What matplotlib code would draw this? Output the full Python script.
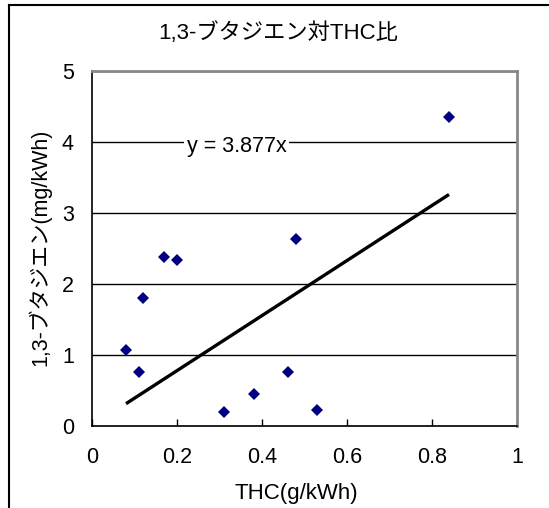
import numpy as np
import matplotlib
matplotlib.use("Agg")
import matplotlib.pyplot as plt
from matplotlib.lines import Line2D

# -----------------------------
# データ
# -----------------------------
thc = [0.08, 0.11, 0.12, 0.17, 0.20, 0.31, 0.38, 0.46, 0.48, 0.53, 0.84]
butadiene = [1.06, 0.75, 1.80, 2.38, 2.33, 0.20, 0.45, 0.75, 2.63, 0.22, 4.35]
slope = 3.877
x_ticks = [0, 0.2, 0.4, 0.6, 0.8, 1]
x_tick_labels = ["0", "0.2", "0.4", "0.6", "0.8", "1"]
y_ticks = [0, 1, 2, 3, 4, 5]

title = "1,3-ブタジエン対THC比"
xlabel = "THC(g/kWh)"
ylabel = "1,3-ブタジエン(mg/kWh)"
eq_label = f"y = {slope}x"

plt.rcParams['font.family'] = ['Liberation Sans', 'Noto Sans CJK JP', 'DejaVu Sans']

W, H = 549, 508
fig = plt.figure(figsize=(W / 100, H / 100), dpi=100)
ax = fig.add_axes([92 / W, 1 - 425.7 / H, 425 / W, 355 / H])

# 近似直線 (原点を通る)
x_fit = np.array([min(thc), max(thc)])
ax.plot(x_fit, slope * x_fit, color='black', lw=2.4, solid_capstyle='butt', zorder=3)

# 散布図
ax.plot(thc, butadiene, linestyle='none', marker='D', ms=6.5,
        color='#000080', markeredgewidth=0, zorder=4)

ax.set_xlim(0, 1)
ax.set_ylim(0, 5)
ax.set_xticks(x_ticks)
ax.set_xticklabels(x_tick_labels)
ax.set_yticks(y_ticks)

ax.yaxis.grid(True, color='black', lw=1.0)
ax.set_axisbelow(True)

ax.tick_params(axis='x', direction='in', length=5, width=1, pad=15, labelsize=15.5)
ax.tick_params(axis='y', length=0, pad=13, labelsize=15.5)

for s in ['left', 'bottom']:
    ax.spines[s].set_color('black')
    ax.spines[s].set_linewidth(1.2)
for s in ['top', 'right']:
    ax.spines[s].set_color('#888888')
    ax.spines[s].set_linewidth(2)

ax.text(0.34, 3.93, eq_label, fontsize=15.5, ha='center', va='center',
        bbox=dict(facecolor='white', edgecolor='none', pad=2), zorder=5)

fig.text(278 / W, 1 - 33 / H, title, fontsize=16, ha='center', va='center')
fig.text(296 / W, 1 - 494 / H, xlabel, fontsize=16, ha='center', va='center')
fig.text(40 / W, 1 - 247 / H, ylabel, fontsize=15.5, ha='center', va='center',
         rotation=90)

# グラフ外枠
fig.add_artist(Line2D([9 / W, 9 / W], [0, 1 - 5 / H], color='black', lw=1.5,
                      transform=fig.transFigure))
fig.add_artist(Line2D([9 / W, 1], [1 - 5 / H, 1 - 5 / H], color='black', lw=1.5,
                      transform=fig.transFigure))

fig.savefig("out.png", dpi=100)
